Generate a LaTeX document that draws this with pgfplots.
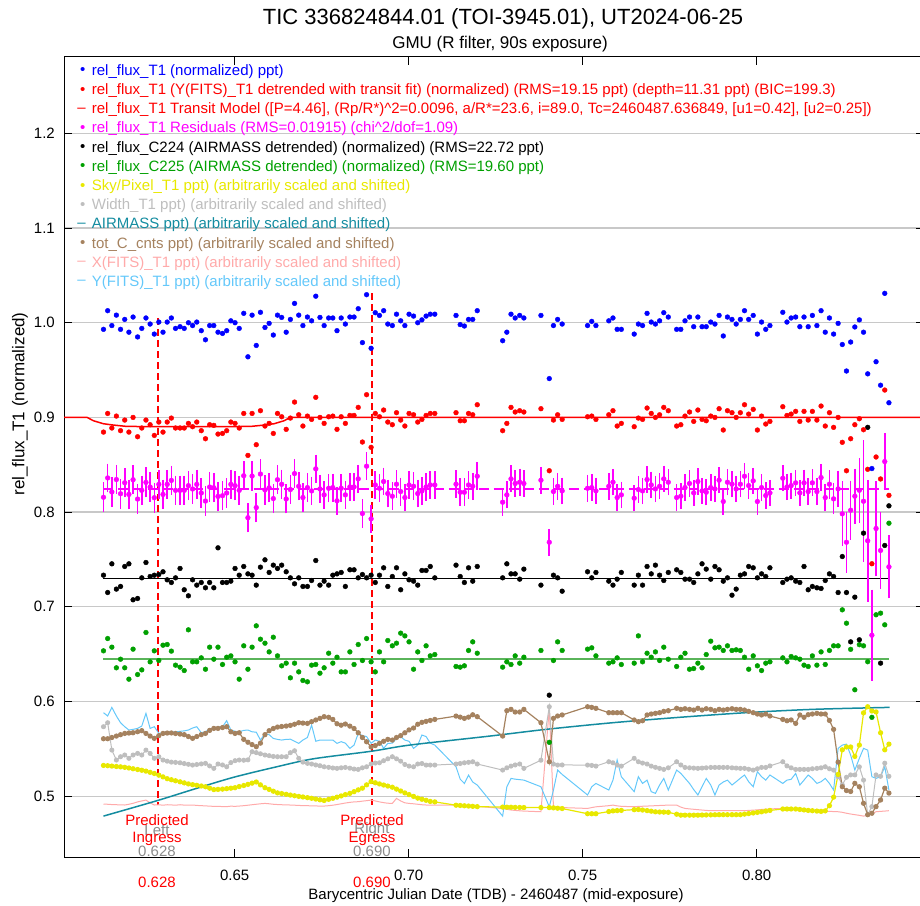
\documentclass[border=0pt]{standalone}
\usepackage{fontspec}
\setmainfont{Liberation Sans}
\usepackage{pgfplots}
\usepackage{pgfplotstable}
\pgfplotsset{compat=1.18}
\definecolor{cblue}{RGB}{0,0,255}
\definecolor{cred}{RGB}{255,0,0}
\definecolor{cmag}{RGB}{255,0,255}
\definecolor{cgreen}{RGB}{0,160,0}
\definecolor{cgreenl}{RGB}{90,180,90}
\definecolor{cyel}{RGB}{232,232,0}
\definecolor{cgray}{RGB}{190,190,190}
\definecolor{cteal}{RGB}{20,140,160}
\definecolor{cbrown}{RGB}{165,130,95}
\definecolor{cpink}{RGB}{255,170,170}
\definecolor{ccyan}{RGB}{100,200,250}
\definecolor{cann}{RGB}{140,140,140}
\definecolor{cgrid}{RGB}{200,200,200}
\newcommand{\fs}[1]{\fontsize{#1}{#1}\selectfont}
\pgfplotstableread{
t blue red res err blk grn yel gry brn pnk cyn
0.6123 0.993 0.8845 0.8157 0.0115 0.7334 0.6535 0.5325 0.5734 0.5607 0.4917 0.5882
0.6135 1.0127 0.9042 0.8361 0.0110 0.7151 0.6665 0.5322 0.5776 0.5607 0.4915 0.5847
0.6147 0.997 0.8888 0.8213 0.0115 0.7454 0.6574 0.5318 0.5487 0.5620 0.4912 0.5938
0.6160 1.008 0.9014 0.8344 0.0112 0.7187 0.6356 0.5314 0.5382 0.5635 0.4910 0.5847
0.6172 0.993 0.8860 0.8194 0.0115 0.7215 0.6447 0.5310 0.5417 0.5650 0.4909 0.5776
0.6184 1.0035 0.8972 0.8310 0.0112 0.7426 0.6356 0.5305 0.5435 0.5663 0.4907 0.5734
0.6196 0.990 0.8845 0.8187 0.0115 0.7454 0.6236 0.5298 0.5400 0.5667 0.4915 0.5699
0.6208 1.006 0.9000 0.8342 0.0112 0.7074 0.6553 0.5290 0.5435 0.5670 0.4925 0.5706
0.6221 0.985 0.8796 0.8138 0.0115 0.7088 0.6285 0.5282 0.5452 0.5681 0.4940 0.5716
0.6233 0.994 0.8888 0.8230 0.0112 0.7306 0.6334 0.5274 0.5435 0.5692 0.4950 0.5741
0.6245 1.005 0.8972 0.8314 0.0115 0.7468 0.6729 0.5265 0.5487 0.5663 0.4959 0.5875
0.6257 0.9986 0.8923 0.8265 0.0112 0.7320 0.6419 0.5252 0.5452 0.5635 0.4930 0.5716
0.6269 0.988 0.8810 0.8152 0.0115 0.7334 0.6535 0.5240 0.5400 0.5611 0.4907 0.5734
0.6282 1.0007 0.8951 0.8293 0.0112 0.7341 0.6433 0.5222 0.5417 0.5640 0.4910 0.5663
0.6294 0.990 0.8845 0.8187 0.0114 0.7370 0.6595 0.5204 0.5382 0.5663 0.4905 0.5670
0.6306 1.0007 0.8951 0.8293 0.0112 0.7285 0.6602 0.5185 0.5370 0.5667 0.4910 0.5680
0.6318 1.005 0.8993 0.8335 0.0114 0.7257 0.6532 0.5174 0.5360 0.5668 0.4908 0.5676
0.6330 0.994 0.8888 0.8230 0.0112 0.7306 0.6384 0.5163 0.5357 0.5662 0.4905 0.5680
0.6343 0.9958 0.8888 0.8230 0.0114 0.7405 0.6363 0.5152 0.5353 0.5656 0.4910 0.5685
0.6355 0.994 0.8888 0.8230 0.0112 0.7180 0.6327 0.5141 0.5345 0.5650 0.4906 0.5690
0.6367 1.0 0.8937 0.8279 0.0114 0.7116 0.6757 0.5130 0.5337 0.5630 0.4907 0.5699
0.6379 0.997 0.8902 0.8244 0.0112 0.7285 0.6419 0.5122 0.5329 0.5611 0.4907 0.5720
0.6391 1.0007 0.8951 0.8293 0.0114 0.7229 0.6419 0.5115 0.5335 0.5630 0.4903 0.5734
0.6404 0.9916 0.8860 0.8202 0.0112 0.7257 0.6461 0.5108 0.5341 0.5650 0.4900 0.5670
0.6416 0.982 0.8775 0.8117 0.0114 0.7201 0.6341 0.5100 0.5347 0.5663 0.4898 0.5680
0.6428 0.997 0.8923 0.8265 0.0112 0.7257 0.6574 0.5085 0.5320 0.5695 0.4895 0.5712
0.6440 0.997 0.8916 0.8258 0.0113 0.7201 0.6447 0.5070 0.5294 0.5716 0.4893 0.5716
0.6452 0.990 0.8824 0.8166 0.0112 0.7623 0.6574 0.5072 0.5340 0.5716 0.4892 0.5730
0.6465 0.9887 0.8831 0.8173 0.0113 0.7257 0.6391 0.5075 0.5330 0.5725 0.4891 0.5734
0.6477 0.9916 0.8860 0.8202 0.0112 0.7257 0.6468 0.5080 0.5311 0.5734 0.4890 0.5797
0.6489 1.002 0.8951 0.8293 0.0113 0.7271 0.6482 0.5085 0.5355 0.5680 0.4895 0.5699
0.6501 1.0 0.8937 0.8279 0.0112 0.7405 0.6419 0.5090 0.5375 0.5663 0.4893 0.5685
0.6513 0.994 0.8888 0.8230 0.0113 0.7334 0.6236 0.5102 0.5382 0.5670 0.4896 0.5680
0.6526 1.0099 0.9042 0.8384 0.0112 0.7426 0.6588 0.5113 0.5380 0.5600 0.4900 0.5695
0.6538 0.964 0.8599 0.7941 0.0113 0.7348 0.6341 0.5125 0.5384 0.5570 0.4905 0.5699
0.6550 1.008 0.9042 0.8381 0.0112 0.7334 0.6574 0.5138 0.5470 0.5545 0.4910 0.5680
0.6562 0.976 0.8712 0.8048 0.0113 0.7229 0.6799 0.5150 0.5460 0.5523 0.4915 0.5676
0.6574 1.011 0.9071 0.8402 0.0112 0.7419 0.6658 0.5120 0.5448 0.5560 0.4920 0.5593
0.6587 0.995 0.8909 0.8234 0.0112 0.7496 0.6616 0.5090 0.5435 0.5650 0.4924 0.5660
0.6599 0.9993 0.8937 0.8256 0.0111 0.7363 0.6524 0.5072 0.5428 0.5692 0.4920 0.5650
0.6611 0.987 0.8831 0.8143 0.0112 0.7440 0.6679 0.5053 0.5420 0.5715 0.4915 0.5610
0.6623 1.008 0.9042 0.8342 0.0111 0.7405 0.6482 0.5035 0.5417 0.5730 0.4912 0.5600
0.6635 1.0056 0.9007 0.8294 0.0112 0.7440 0.6377 0.5028 0.5417 0.5736 0.4910 0.5593
0.6648 0.990 0.8874 0.8139 0.0111 0.7370 0.6405 0.5020 0.5417 0.5741 0.4908 0.5600
0.6660 1.0035 0.8993 0.8238 0.0110 0.7306 0.6250 0.5012 0.5460 0.5748 0.4907 0.5602
0.6672 1.0204 0.9162 0.8407 0.0108 0.7243 0.6405 0.5005 0.5480 0.5760 0.4905 0.5580
0.6684 1.008 0.9028 0.8273 0.0107 0.7306 0.6313 0.4998 0.5400 0.5776 0.4903 0.5558
0.6696 0.997 0.8909 0.8154 0.0108 0.7215 0.6222 0.4992 0.5360 0.5772 0.4900 0.5593
0.6709 1.006 0.9014 0.8259 0.0107 0.7215 0.6208 0.4985 0.5347 0.5769 0.4900 0.5620
0.6721 1.002 0.8979 0.8224 0.0108 0.7278 0.6384 0.4978 0.5340 0.5787 0.4898 0.5751
0.6733 1.028 0.9212 0.8457 0.0107 0.7489 0.6391 0.4970 0.5330 0.5805 0.4897 0.5580
0.6745 1.0056 0.9000 0.8245 0.0107 0.7229 0.6299 0.4962 0.5322 0.5822 0.4896 0.5593
0.6757 0.997 0.8937 0.8182 0.0106 0.7271 0.6356 0.4955 0.5311 0.5840 0.4896 0.5593
0.6770 1.005 0.9007 0.8252 0.0107 0.7229 0.6510 0.4967 0.5305 0.5833 0.4900 0.5593
0.6782 1.005 0.9014 0.8259 0.0106 0.7334 0.6405 0.4978 0.5298 0.5811 0.4905 0.5593
0.6794 0.9916 0.8874 0.8119 0.0107 0.7348 0.6468 0.4990 0.5294 0.5765 0.4912 0.5558
0.6806 1.005 0.9007 0.8252 0.0106 0.7363 0.6313 0.5003 0.5300 0.5750 0.4920 0.5576
0.6818 0.9986 0.8937 0.8182 0.0106 0.7215 0.6313 0.5017 0.5304 0.5762 0.4928 0.5560
0.6831 1.006 0.9021 0.8266 0.0106 0.7391 0.6524 0.5030 0.5296 0.5740 0.4935 0.5505
0.6843 1.006 0.9021 0.8266 0.0106 0.7391 0.6391 0.5048 0.5287 0.5715 0.4940 0.5540
0.6855 1.0148 0.9106 0.8351 0.0106 0.7306 0.6602 0.5067 0.5283 0.5670 0.4942 0.5663
0.6867 0.979 0.8740 0.7985 0.0106 0.7341 0.6433 0.5085 0.5300 0.5620 0.4948 0.5640
0.6879 1.0296 0.9240 0.8485 0.0106 0.7306 0.6665 0.5120 0.5311 0.5575 0.4953 0.5630
0.6892 0.973 0.8684 0.7929 0.0106 0.7334 0.6419 0.5155 0.5340 0.5520 0.4959 0.5558
0.6904 1.0106 0.9042 0.8287 0.0105 0.7257 0.6313 0.5142 0.5350 0.5535 0.4950 0.5593
0.6916 1.0077 0.9007 0.8252 0.0105 0.7334 0.6524 0.5130 0.5353 0.5558 0.4940 0.5580
0.6928 1.0127 0.9078 0.8323 0.0105 0.7412 0.6419 0.5118 0.5375 0.5580 0.4932 0.5505
0.6940 0.9986 0.8951 0.8196 0.0105 0.7215 0.6644 0.5107 0.5395 0.5600 0.4926 0.5558
0.6953 0.997 0.8923 0.8168 0.0105 0.7320 0.6588 0.5095 0.5417 0.5593 0.4924 0.5560
0.6965 1.009 0.9050 0.8295 0.0105 0.7412 0.6616 0.5075 0.5395 0.5620 0.4977 0.5610
0.6977 1.002 0.8972 0.8217 0.0105 0.7180 0.6722 0.5055 0.5370 0.5640 0.4950 0.5628
0.6989 0.997 0.8909 0.8154 0.0105 0.7348 0.6693 0.5035 0.5335 0.5670 0.4930 0.5593
0.7001 1.009 0.9042 0.8287 0.0105 0.7285 0.6630 0.5017 0.5318 0.5700 0.4924 0.5580
0.7014 1.007 0.9028 0.8273 0.0104 0.7271 0.6341 0.4998 0.5311 0.5720 0.4920 0.5505
0.7026 1.0 0.8951 0.8196 0.0104 0.7229 0.6524 0.4980 0.5340 0.5760 0.4915 0.5540
0.7038 1.003 0.8979 0.8224 0.0104 0.7384 0.6433 0.4968 0.5345 0.5780 0.4910 0.5646
0.7050 1.007 0.9021 0.8266 0.0104 0.7384 0.6588 0.4957 0.5329 0.5790 0.4907 0.5630
0.7062 1.009 0.9042 0.8287 0.0104 0.7426 0.6482 0.4945 0.5329 0.5800 0.4907 0.5560
0.7075 1.009 0.9042 0.8287 0.0104 0.7306 0.6496 0.4940 0.5329 0.5811 0.4907 0.5540
0.7136 1.0077 0.9050 0.8295 0.0103 0.7440 0.6370 0.4905 0.5340 0.5846 0.4907 0.5311
0.7148 0.998 0.8965 0.8210 0.0103 0.7320 0.6363 0.4902 0.5345 0.5835 0.4905 0.5180
0.7160 0.9965 0.8965 0.8210 0.0103 0.7257 0.6377 0.4899 0.5353 0.5822 0.4903 0.5135
0.7172 1.0035 0.9042 0.8287 0.0103 0.7412 0.6539 0.4896 0.5358 0.5835 0.4900 0.5223
0.7184 1.0035 0.9028 0.8273 0.0103 0.7271 0.6630 0.4893 0.5364 0.5860 0.4897 0.5150
0.7197 1.0127 0.9134 0.8379 0.0103 0.7426 0.6510 0.4890 0.5340 0.5840 0.4893 0.5118
0.7270 0.981 0.8860 0.8105 0.0100 0.7306 0.6363 0.4885 0.5276 0.5635 0.4870 0.4790
0.7282 0.990 0.8937 0.8182 0.0100 0.7454 0.6419 0.4884 0.5300 0.5903 0.4862 0.5100
0.7294 1.009 0.9106 0.8351 0.0100 0.7348 0.6391 0.4883 0.5318 0.5917 0.4854 0.5188
0.7306 1.005 0.9057 0.8302 0.0100 0.7348 0.6482 0.4882 0.5330 0.5889 0.4850 0.5180
0.7319 1.0077 0.9071 0.8316 0.0100 0.7292 0.6405 0.4881 0.5340 0.5889 0.4846 0.5175
0.7331 1.005 0.9057 0.8302 0.0100 0.7398 0.6468 0.4880 0.5294 0.5917 0.4843 0.5170
0.7380 1.0077 0.9092 0.8337 0.0099 0.7229 0.6539 0.4880 0.5380 0.5776 0.4836 0.5100
0.7404 0.941 0.8437 0.7682 0.0099 0.6067 0.5569 0.4880 0.5945 0.5364 0.5927 0.4888
0.7416 0.997 0.8972 0.8217 0.0099 0.7334 0.6433 0.4877 0.5340 0.5822 0.4889 0.5065
0.7428 1.0035 0.9028 0.8273 0.0099 0.7306 0.6630 0.4873 0.5329 0.5847 0.4885 0.5276
0.7441 0.9986 0.8979 0.8224 0.0099 0.7165 0.6539 0.4870 0.5330 0.5858 0.4880 0.5230
0.7514 0.997 0.9007 0.8252 0.0098 0.7370 0.6553 0.4815 0.5329 0.5945 0.4871 0.5013
0.7526 1.0014 0.9014 0.8259 0.0098 0.7306 0.6567 0.4815 0.5325 0.5938 0.4880 0.5100
0.7538 0.997 0.8979 0.8224 0.0098 0.7363 0.6482 0.4815 0.5318 0.5928 0.4888 0.5135
0.7575 1.002 0.9028 0.8273 0.0098 0.7271 0.6405 0.4838 0.5364 0.5882 0.4900 0.5065
0.7587 1.005 0.9071 0.8316 0.0098 0.7229 0.6419 0.4845 0.5353 0.5882 0.4906 0.5170
0.7599 0.993 0.8909 0.8154 0.0098 0.7292 0.6461 0.4848 0.5329 0.5882 0.4898 0.5382
0.7611 0.993 0.8937 0.8182 0.0098 0.7363 0.6391 0.4850 0.5318 0.5882 0.4893 0.5206
0.7648 0.988 0.8902 0.8147 0.0097 0.7229 0.6405 0.4858 0.5400 0.5805 0.4889 0.5048
0.7660 0.9986 0.8993 0.8238 0.0097 0.7334 0.6693 0.4860 0.5364 0.5787 0.4892 0.5206
0.7672 0.997 0.8979 0.8224 0.0097 0.7229 0.6419 0.4854 0.5350 0.5797 0.4894 0.5135
0.7685 1.0099 0.9099 0.8344 0.0097 0.7426 0.6510 0.4848 0.5340 0.5858 0.4896 0.5170
0.7697 1.0007 0.9042 0.8287 0.0097 0.7348 0.6468 0.4842 0.5318 0.5868 0.4898 0.5048
0.7709 0.9986 0.9000 0.8245 0.0097 0.7440 0.6524 0.4835 0.5305 0.5875 0.4900 0.5030
0.7721 1.002 0.9028 0.8273 0.0097 0.7334 0.6433 0.4833 0.5294 0.5882 0.4902 0.5118
0.7733 1.0106 0.9106 0.8351 0.0097 0.7278 0.6574 0.4832 0.5283 0.5896 0.4904 0.5188
0.7746 1.006 0.9071 0.8316 0.0097 0.7363 0.6447 0.4830 0.5300 0.5903 0.4906 0.5065
0.7770 0.993 0.8909 0.8154 0.0096 0.7391 0.6370 0.4810 0.5364 0.5928 0.4906 0.5276
0.7782 0.993 0.8923 0.8168 0.0096 0.7363 0.6468 0.4800 0.5330 0.5917 0.4885 0.5241
0.7794 1.002 0.9014 0.8259 0.0096 0.7292 0.6510 0.4800 0.5304 0.5924 0.4871 0.5190
0.7807 1.006 0.9057 0.8302 0.0096 0.7292 0.6341 0.4800 0.5300 0.5917 0.4866 0.5135
0.7819 0.9958 0.8958 0.8203 0.0096 0.7257 0.6348 0.4800 0.5297 0.5910 0.4862 0.5070
0.7831 1.006 0.9078 0.8323 0.0096 0.7348 0.6405 0.4800 0.5294 0.5928 0.4858 0.5013
0.7843 0.9958 0.8979 0.8224 0.0096 0.7454 0.6356 0.4801 0.5297 0.5910 0.4854 0.5100
0.7855 0.9958 0.8965 0.8210 0.0096 0.7398 0.6496 0.4802 0.5300 0.5924 0.4850 0.5188
0.7868 1.0007 0.9014 0.8259 0.0096 0.7292 0.6637 0.4803 0.5304 0.5917 0.4847 0.5118
0.7880 0.9986 0.9000 0.8245 0.0096 0.7426 0.6567 0.4804 0.5304 0.5903 0.4847 0.5013
0.7892 1.0077 0.9092 0.8337 0.0096 0.7391 0.6574 0.4805 0.5304 0.5917 0.4847 0.5118
0.7904 0.986 0.8867 0.8112 0.0096 0.7271 0.6539 0.4805 0.5304 0.5910 0.4847 0.5150
0.7916 1.006 0.9071 0.8316 0.0096 0.7306 0.6588 0.4805 0.5304 0.5917 0.4847 0.5170
0.7929 1.0035 0.9050 0.8295 0.0096 0.7123 0.6539 0.4805 0.5300 0.5924 0.4847 0.5118
0.7941 0.9986 0.9000 0.8245 0.0096 0.7187 0.6546 0.4805 0.5297 0.5917 0.4847 0.5153
0.7953 1.0035 0.9050 0.8295 0.0096 0.7334 0.6539 0.4805 0.5294 0.5917 0.4847 0.5190
0.7965 1.0127 0.9134 0.8379 0.0096 0.7348 0.6468 0.4811 0.5294 0.5910 0.4847 0.5224
0.7977 1.0035 0.9035 0.8280 0.0096 0.7426 0.6341 0.4817 0.5285 0.5896 0.4850 0.5153
0.7990 1.0077 0.9085 0.8330 0.0096 0.7412 0.6482 0.4823 0.5276 0.5882 0.4853 0.5100
0.8002 0.988 0.8867 0.8112 0.0096 0.7306 0.6377 0.4829 0.5290 0.5868 0.4856 0.5259
0.8014 1.0007 0.9014 0.8259 0.0096 0.7348 0.6327 0.4835 0.5304 0.5858 0.4860 0.5206
0.8026 0.993 0.8930 0.8175 0.0096 0.7320 0.6405 0.4843 0.5304 0.5868 0.4863 0.5170
0.8038 0.997 0.8958 0.8203 0.0096 0.7412 0.6419 0.4850 0.5320 0.5847 0.4866 0.5224
0.8075 1.011 0.9113 0.8358 0.0096 0.7257 0.6461 0.4865 0.5364 0.5811 0.4871 0.5135
0.8087 1.0007 0.9021 0.8266 0.0096 0.7292 0.6419 0.4865 0.5320 0.5797 0.4868 0.5170
0.8099 1.005 0.9035 0.8280 0.0096 0.7306 0.6475 0.4865 0.5300 0.5805 0.4865 0.5178
0.8112 1.006 0.9064 0.8309 0.0096 0.7271 0.6461 0.4865 0.5283 0.5769 0.4862 0.5241
0.8124 0.9958 0.8958 0.8203 0.0096 0.7257 0.6447 0.4860 0.5283 0.5858 0.4859 0.5118
0.8136 1.006 0.9064 0.8309 0.0097 0.7426 0.6384 0.4855 0.5283 0.5833 0.4856 0.5170
0.8148 0.9958 0.8972 0.8217 0.0098 0.7180 0.6370 0.4850 0.5283 0.5861 0.4855 0.5224
0.8160 1.0077 0.9064 0.8309 0.0099 0.7215 0.6482 0.4847 0.5290 0.5868 0.4854 0.5188
0.8173 0.997 0.8972 0.8217 0.0100 0.7201 0.6384 0.4843 0.5294 0.5875 0.4850 0.5135
0.8185 1.0127 0.9120 0.8365 0.0102 0.7194 0.6524 0.4840 0.5300 0.5868 0.4846 0.5153
0.8197 0.990 0.8909 0.8154 0.0105 0.7278 0.6391 0.4845 0.5311 0.5868 0.4843 0.5188
0.8209 1.005 0.9050 0.8295 0.0110 0.7348 0.6539 0.4900 0.5290 0.5800 0.4840 0.5135
0.8221 0.988 0.8895 0.8140 0.0120 0.7320 0.6588 0.4990 0.5276 0.5706 0.4838 0.5065
0.8234 0.9993 0.9000 0.8245 0.0150 0.7151 0.6588 0.5230 0.5206 0.5360 0.4836 0.5505
0.8246 0.977 0.8737 0.7982 0.0300 0.7531 0.6968 0.5490 0.5120 0.5100 0.4830 0.5540
0.8258 0.949 0.8437 0.7682 0.0280 0.7151 0.6827 0.5520 0.5200 0.5060 0.4820 0.5550
0.8270 0.9796 0.8775 0.8020 0.0270 0.6630 0.6551 0.5520 0.5225 0.5050 0.4812 0.5434
0.8282 0.9955 0.8923 0.8168 0.0250 0.7102 0.6124 0.5420 0.5225 0.5136 0.4805 0.5276
0.8295 1.003 0.8986 0.8231 0.0300 0.6652 0.6600 0.5540 0.5310 0.5100 0.4798 0.5400
0.8307 0.990 0.8870 0.8115 0.0600 0.7778 0.6588 0.5880 0.5170 0.4925 0.4790 0.5505
0.8319 0.946 0.8452 0.7697 0.0600 0.8895 0.6420 0.5945 0.4805 0.4805 0.4800 0.5487
0.8331 0.846 0.7455 0.6700 0.0440 nan 0.5833 0.5900 0.4890 0.4820 0.4815 0.5206
0.8343 0.9588 0.8582 0.7827 0.0460 nan 0.6916 0.5890 0.5225 0.4890 0.4836 0.5188
0.8356 0.934 0.8350 0.7595 0.0360 0.6405 0.6933 0.5670 0.5210 0.4960 0.4840 0.5206
0.8368 1.031 0.9289 0.8534 0.0260 0.7648 0.6810 0.5490 0.5349 0.5085 0.4843 0.5311
0.8380 0.9155 0.8177 0.7422 0.0290 0.8066 0.7883 0.5550 0.5210 0.5033 0.4847 0.5065
}\datatab
\begin{document}
\begin{tikzpicture}
\begin{axis}[
  scale only axis, width=860pt, height=800pt,
  xmin=0.60095, xmax=0.84808, ymin=0.4358, ymax=1.2806,
  xtick={0.65,0.70,0.75,0.80}, xticklabels={0.65,0.70,0.75,0.80},
  ytick={0.5,0.6,0.7,0.8,0.9,1.0,1.1,1.2},
  yticklabels={0.5,0.6,0.7,0.8,0.9,1.0,1.1,1.2},
  tick align=inside, major tick length=8pt,
  tick style={black, line width=1pt},
  axis line style={black, line width=1pt},
  ymajorgrids, major grid style={cgrid, line width=1.3pt},
  tick label style={font=\fs{15}, inner sep=0pt},
  xticklabel style={yshift=-13pt},
  yticklabel style={xshift=-9pt},
]
\coordinate (nw) at (rel axis cs:0,1);
% predicted ingress / egress (drawn first, under the data)
\addplot[draw=red, line width=1.7pt, dash pattern=on 7pt off 4pt] coordinates {(0.6280,1.0046) (0.6280,0.4905)};
\addplot[draw=red, line width=1.7pt, dash pattern=on 7pt off 4pt] coordinates {(0.6894,1.031) (0.6894,0.4905)};
% bottom auxiliary series
\addplot[cpink, line width=1pt] table[x=t,y=pnk]{\datatab};
\addplot[ccyan, line width=1pt] table[x=t,y=cyn]{\datatab};
\addplot[cteal, line width=1.5pt, smooth] coordinates {(0.6123,0.479) (0.6276,0.4952) (0.6381,0.5072) (0.6496,0.5199) (0.6621,0.5311) (0.6726,0.5395) (0.6893,0.5475) (0.7003,0.5540) (0.7233,0.5635) (0.7395,0.5706) (0.7586,0.5776) (0.7778,0.5833) (0.7969,0.5882) (0.8160,0.5917) (0.8382,0.5938)};
\addplot[cgray, line width=1pt, mark=*, mark size=2pt, mark options={fill=cgray, draw=cgray}] table[x=t,y=gry]{\datatab};
\addplot[cbrown, line width=1.2pt, mark=*, mark size=2pt, mark options={fill=cbrown, draw=cbrown}] table[x=t,y=brn]{\datatab};
\addplot[cyel, line width=1.2pt, mark=*, mark size=2pt, mark options={fill=cyel, draw=cyel}] table[x=t,y=yel]{\datatab};
% comparison stars
\addplot[cgreenl, line width=2pt] coordinates {(0.6123,0.6451) (0.8380,0.6451)};
\addplot[only marks, mark=*, mark size=2.4pt, cgreen] table[x=t,y=grn]{\datatab};
\addplot[black, line width=1.5pt] coordinates {(0.6123,0.7299) (0.8380,0.7299)};
\addplot[only marks, mark=*, mark size=2.4pt, black] table[x=t,y=blk]{\datatab};
% residuals
\addplot[cmag, line width=2pt, dash pattern=on 10pt off 5pt] coordinates {(0.6123,0.8244) (0.8380,0.8244)};
\addplot[only marks, mark=*, mark size=2.4pt, color=cmag, draw=cmag, fill=cmag,
  error bars/.cd, y dir=both, y explicit,
  error bar style={draw=cmag, color=cmag, line width=1.6pt},
  error mark options={draw=cmag, color=cmag, mark size=4pt, line width=1.6pt}]
  table[x=t,y=res,y error=err]{\datatab};
% transit model and target
\addplot[cred, line width=1.5pt] coordinates {(0.60095,0.9) (0.6076,0.9) (0.6094,0.8965) (0.6123,0.8933) (0.6152,0.8919) (0.6190,0.8905) (0.6250,0.8903) (0.6368,0.8902) (0.6486,0.8903) (0.6546,0.8905) (0.6584,0.8919) (0.6613,0.8933) (0.6642,0.8965) (0.6660,0.9) (0.84808,0.9)};
\addplot[only marks, mark=*, mark size=2.4pt, cred] table[x=t,y=red]{\datatab};
\addplot[only marks, mark=*, mark size=2.4pt, cblue] table[x=t,y=blue]{\datatab};
\end{axis}
\pgfresetboundingbox
\begin{scope}[shift={(nw)}, x=1pt, y=-1pt, shift={(-64,-57)}]
\path[use as bounding box] (0,0) rectangle (920,905);
% titles
\node[font=\fs{22}, inner sep=0pt] at (503,19) {TIC 336824844.01 (TOI-3945.01), UT2024-06-25};
\node[font=\fs{17}, inner sep=0pt] at (500,44) {GMU (R filter, 90s exposure)};
\node[font=\fs{15}, inner sep=0pt] at (496,896) {Barycentric Julian Date (TDB) - 2460487 (mid-exposure)};
\node[font=\fs{17}, inner sep=0pt, rotate=90] at (20,404) {rel\_flux\_T1 (normalized)};
% ingress / egress annotations
\node[font=\fs{15}, inner sep=0pt, text=cann] at (157,830) {Left};
\node[font=\fs{15}, inner sep=0pt, text=cann] at (157,851) {0.628};
\node[font=\fs{15}, inner sep=0pt, text=cred] at (157,820) {Predicted};
\node[font=\fs{15}, inner sep=0pt, text=cred] at (157,839) {Ingress};
\node[font=\fs{15}, inner sep=0pt, text=cred] at (157,882) {0.628};
\node[font=\fs{15}, inner sep=0pt, text=cann] at (372,830) {Right};
\node[font=\fs{15}, inner sep=0pt, text=cann] at (372,851) {0.690};
\node[font=\fs{15}, inner sep=0pt, text=cred] at (372,820) {Predicted};
\node[font=\fs{15}, inner sep=0pt, text=cred] at (372,839) {Egress};
\node[font=\fs{15}, inner sep=0pt, text=cred] at (372,882) {0.690};
% legend
\begin{scope}[every node/.style={font=\fs{15}, inner sep=0pt}]
\node[text=cblue] at (82.7,71.5) {•};
\node[text=cblue, anchor=west] at (91.7,71.5) {rel\_flux\_T1 (normalized) ppt)};
\node[text=cred] at (82.7,90.7) {•};
\node[text=cred, anchor=west] at (91.7,90.7) {rel\_flux\_T1 (Y(FITS)\_T1 detrended with transit fit) (normalized) (RMS=19.15 ppt) (depth=11.31 ppt) (BIC=199.3)};
\node[text=cred] at (81.5,109.9) {–};
\node[text=cred, anchor=west] at (91.7,109.9) {rel\_flux\_T1 Transit Model ([P=4.46], (Rp/R*)\textasciicircum 2=0.0096, a/R*=23.6, i=89.0, Tc=2460487.636849, [u1=0.42], [u2=0.25])};
\node[text=cmag] at (82.7,129.1) {•};
\node[text=cmag, anchor=west] at (91.7,129.1) {rel\_flux\_T1 Residuals (RMS=0.01915) (chi\textasciicircum 2/dof=1.09)};
\node[text=black] at (82.7,148.3) {•};
\node[text=black, anchor=west] at (91.7,148.3) {rel\_flux\_C224 (AIRMASS detrended) (normalized) (RMS=22.72 ppt)};
\node[text=cgreen] at (82.7,167.5) {•};
\node[text=cgreen, anchor=west] at (91.7,167.5) {rel\_flux\_C225 (AIRMASS detrended) (normalized) (RMS=19.60 ppt)};
\node[text=cyel] at (82.7,186.7) {•};
\node[text=cyel, anchor=west] at (91.7,186.7) {Sky/Pixel\_T1 ppt) (arbitrarily scaled and shifted)};
\node[text=cgray] at (82.7,205.9) {•};
\node[text=cgray, anchor=west] at (91.7,205.9) {Width\_T1 ppt) (arbitrarily scaled and shifted)};
\node[text=cteal] at (81.5,225.1) {–};
\node[text=cteal, anchor=west] at (91.7,225.1) {AIRMASS ppt) (arbitrarily scaled and shifted)};
\node[text=cbrown] at (82.7,244.3) {•};
\node[text=cbrown, anchor=west] at (91.7,244.3) {tot\_C\_cnts ppt) (arbitrarily scaled and shifted)};
\node[text=cpink] at (81.5,263.5) {–};
\node[text=cpink, anchor=west] at (91.7,263.5) {X(FITS)\_T1 ppt) (arbitrarily scaled and shifted)};
\node[text=ccyan] at (81.5,282.7) {–};
\node[text=ccyan, anchor=west] at (91.7,282.7) {Y(FITS)\_T1 ppt) (arbitrarily scaled and shifted)};
\end{scope}
\end{scope}
\end{tikzpicture}
\end{document}
